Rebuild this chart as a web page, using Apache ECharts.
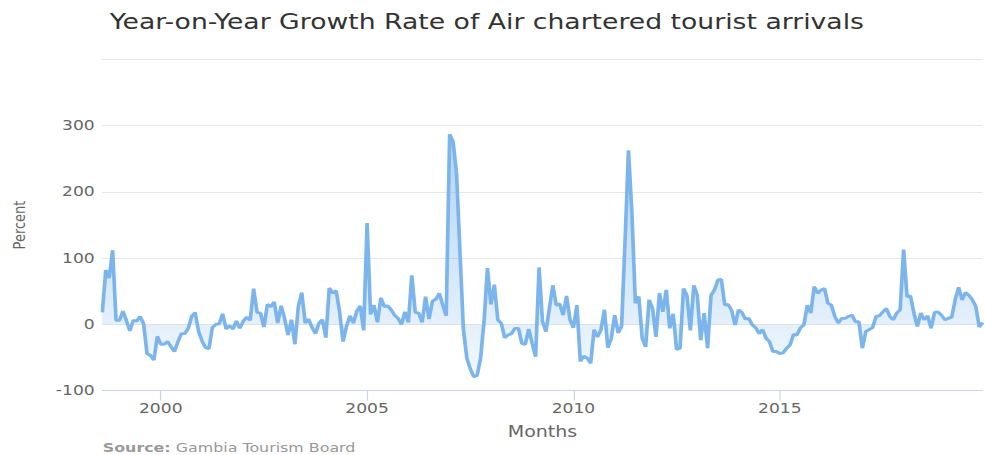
<!DOCTYPE html>
<html><head><meta charset="utf-8">
<script src="https://cdn.jsdelivr.net/npm/echarts@6/dist/echarts.min.js"></script>
<style>
html,body{margin:0;padding:0;background:#fff;overflow:hidden;}
#wrap{width:985px;height:455px;overflow:hidden;}
#chart{width:776px;height:455px;transform:scaleX(1.2693);transform-origin:0 0;}
</style></head><body>
<div id="wrap"><div id="chart"></div></div>
<script>
// First month of the series: August 1998, monthly through December 2019
const startYear = 1998;
const startMonth = 8;

// Year-on-year growth rate (%) of air chartered tourist arrivals, one value per month
const growth = [
  18, 82, 70, 112, 6, 6, 20, 6, -10, 6, 5, 12, 1, -44, -47, -54, -18, -30, -30, -26,
  -34, -41, -26, -14, -14, -6, 12, 18, -11, -25, -35, -37, -5, 0, 1, 16, -7, -2, -7, 5,
  -6, 5, 11, 6, 54, 18, 17, -4, 30, 27, 34, 2, 28, 9, -16, 7, -30, 27, 48, 2,
  8, -5, -14, 2, 7, -20, 55, 47, 51, 19, -26, -3, 13, 2, 20, 28, -9, 153, 15, 29,
  3, 40, 27, 28, 22, 14, 9, 0, 19, 3, 74, 18, 17, 3, 42, 8, 35, 38, 47, 29,
  13, 287, 276, 228, 110, -8, -51, -67, -79, -77, -51, 4, 85, 30, 60, 7, 2, -20, -16, -14,
  -6, -6, -29, -30, -7, -29, -49, 86, 4, -11, 24, 59, 29, 31, 14, 43, 7, -5, 29, -56,
  -48, -51, -59, -8, -19, -8, 22, -35, -21, 14, -13, -3, 125, 263, 168, 32, 42, -21, -34, 37,
  24, -19, 47, 19, 52, -6, 16, -38, -36, 54, 44, -9, 59, 44, -24, 17, -36, 44, 52, 67,
  68, 29, 30, 21, -1, 22, 18, 8, 9, -1, -5, -14, -8, -21, -26, -41, -41, -44, -43, -36,
  -31, -15, -16, -5, -1, 29, 17, 57, 47, 52, 54, 32, 29, 12, 2, 9, 9, 12, 14, 4,
  4, -36, -11, -8, -5, 12, 13, 19, 24, 12, 7, 17, 22, 113, 42, 43, 17, -3, 17, 7,
  13, -6, 18, 19, 14, 7, 9, 11, 37, 56, 37, 48, 44, 37, 27, -4, 3
];

// Axis tick labels
const yearTicks = [2000, 2005, 2010, 2015];
const yMin = -100, yMax = 400, yStep = 100;

const titleText = 'Year-on-Year Growth Rate of Air chartered tourist arrivals';
const xName = 'Months';
const yName = 'Percent';
const sourceLabel = 'Source:';
const sourceText = 'Gambia Tourism Board';

// decimal-year position of each month
const monthPos = growth.map((v, i) => startYear + (startMonth - 1 + i) / 12);
const seriesData = growth.map((v, i) => [monthPos[i], v]);

const FONT = 'DejaVu Sans';
const chart = echarts.init(document.getElementById('chart'), null, { renderer: 'svg' });
chart.setOption({
  animation: false,
  backgroundColor: '#ffffff',
  title: {
    text: titleText,
    left: 86.5,
    top: 11,
    padding: 0,
    textStyle: { fontFamily: FONT, fontSize: 21, fontWeight: 'normal', color: '#333333' }
  },
  grid: { left: 80.6, right: 1.8, top: 59.5, bottom: 64.4 },
  xAxis: {
    type: 'value',
    min: monthPos[0],
    max: monthPos[monthPos.length - 1],
    name: xName,
    nameLocation: 'middle',
    nameGap: 34,
    nameTextStyle: { fontFamily: FONT, fontSize: 15, color: '#666666' },
    splitLine: { show: false },
    axisLine: { onZero: false, lineStyle: { color: '#ccd6eb', width: 1 } },
    axisTick: { show: true, customValues: yearTicks, length: 10, lineStyle: { color: '#ccd6eb' } },
    axisLabel: {
      customValues: yearTicks,
      formatter: v => String(Math.round(v)),
      margin: 11,
      fontFamily: FONT, fontSize: 13.5, color: '#666666'
    }
  },
  yAxis: {
    type: 'value',
    min: yMin, max: yMax, interval: yStep,
    name: yName,
    nameLocation: 'middle',
    nameGap: 59,
    nameTextStyle: { fontFamily: FONT, fontSize: 13, color: '#666666' },
    axisLine: { show: false },
    axisTick: { show: false },
    splitLine: { lineStyle: { color: '#e6e6e6', width: 1 } },
    axisLabel: {
      formatter: v => (v === yMax ? '' : String(v)),
      margin: 6,
      fontFamily: FONT, fontSize: 13.5, color: '#666666'
    }
  },
  graphic: [{
    type: 'text',
    left: 81,
    top: 441,
    style: {
      text: '{b|' + sourceLabel + '} ' + sourceText,
      fontFamily: FONT, fontSize: 12.5, fill: '#999999',
      rich: { b: { fontFamily: FONT, fontSize: 12.5, fontWeight: 'bold', fill: '#999999' } }
    }
  }],
  series: [{
    type: 'line',
    data: seriesData,
    showSymbol: false,
    smooth: false,
    lineStyle: { color: '#7cb5ec', width: 2.9 },
    itemStyle: { color: '#7cb5ec' },
    areaStyle: {
      origin: 'auto',
      color: new echarts.graphic.LinearGradient(0, 0, 0, 1, [
        { offset: 0, color: 'rgba(124,181,236,0.85)' },
        { offset: 1, color: 'rgba(124,181,236,0.14)' }
      ])
    }
  }]
});
</script>
</body></html>
